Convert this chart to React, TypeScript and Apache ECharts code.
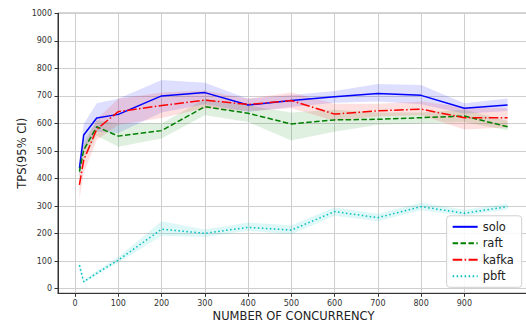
import React, { useEffect, useRef } from "react";
import * as echarts from "echarts";

const concurrency = [10, 20, 50, 100, 200, 300, 400, 500, 600, 700, 800, 900, 1000];

const solo = [437, 558, 620, 633, 700, 712, 667, 683, 697, 709, 702, 655, 667];
const soloLo = [410, 505, 570, 565, 640, 670, 642, 660, 675, 680, 670, 635, 645];
const soloHi = [470, 598, 673, 690, 758, 748, 690, 703, 718, 743, 740, 673, 691];

const raft = [425, 504, 588, 554, 574, 661, 637, 598, 613, 615, 621, 627, 588];
const raftLo = [400, 470, 555, 515, 545, 630, 605, 538, 570, 595, 600, 605, 575];
const raftHi = [450, 540, 612, 600, 600, 690, 665, 640, 650, 640, 640, 650, 610];

const kafka = [377, 467, 579, 643, 665, 685, 669, 683, 634, 646, 652, 621, 621];
const kafkaLo = [322, 420, 540, 595, 620, 655, 645, 655, 610, 625, 630, 578, 585];
const kafkaHi = [430, 520, 615, 690, 712, 720, 690, 712, 672, 672, 680, 660, 655];

const pbft = [85, 25, 56, 104, 216, 201, 223, 213, 280, 258, 298, 274, 298];
const pbftLo = [70, 20, 50, 95, 192, 188, 210, 198, 265, 245, 285, 265, 288];
const pbftHi = [105, 30, 65, 115, 245, 215, 240, 230, 295, 272, 312, 287, 310];

const xTicks = [0, 100, 200, 300, 400, 500, 600, 700, 800, 900];
const yTicks = [0, 100, 200, 300, 400, 500, 600, 700, 800, 900, 1000];

const FONT = "DejaVu Sans";

type Spec = {
  name: string;
  mean: number[];
  lo: number[];
  hi: number[];
  color: string;
  band: string;
  dash: any;
};

const specs: Spec[] = [
  { name: "solo", mean: solo, lo: soloLo, hi: soloHi, color: "#0000ff", band: "rgba(0,0,255,0.13)", dash: "solid" },
  { name: "raft", mean: raft, lo: raftLo, hi: raftHi, color: "#008000", band: "rgba(0,128,0,0.12)", dash: [5.5, 2.4] },
  { name: "kafka", mean: kafka, lo: kafkaLo, hi: kafkaHi, color: "#ff0000", band: "rgba(255,0,0,0.12)", dash: [9.6, 2.4, 1.5, 2.4] },
  { name: "pbft", mean: pbft, lo: pbftLo, hi: pbftHi, color: "#00bfbf", band: "rgba(0,191,191,0.13)", dash: [1.5, 2.5] },
];

export default function App() {
  const ref = useRef<HTMLDivElement>(null);
  useEffect(() => {
    if (!ref.current) return;
    const chart = echarts.init(ref.current, undefined, { renderer: "svg" });
    const series: any[] = [];
    specs.forEach((s) => {
      series.push({
        name: s.name + "-ci",
        type: "custom",
        silent: true,
        z: 1,
        encode: { x: 0, y: 1 },
        data: [[concurrency[0], s.lo[0]]],
        renderItem: (_params: any, api: any) => {
          const upper = concurrency.map((x, i) => api.coord([x, s.hi[i]]));
          const lower = concurrency.map((x, i) => api.coord([x, s.lo[i]])).reverse();
          return {
            type: "polygon",
            shape: { points: upper.concat(lower) },
            style: { fill: s.band, stroke: "none" },
            silent: true,
          };
        },
      });
    });
    specs.forEach((s) => {
      series.push({
        name: s.name,
        type: "line",
        symbol: "none",
        color: s.color,
        lineStyle: { color: s.color, width: 1.5, type: s.dash },
        data: concurrency.map((x, i) => [x, s.mean[i]]),
        z: 3,
      });
    });

    chart.setOption({
      animation: false,
      backgroundColor: "#ffffff",
      textStyle: { fontFamily: FONT },
      grid: {
        left: 58,
        top: 13.3,
        right: -3,
        bottom: 29.7,
        outerBoundsMode: "none",
        containLabel: false,
        show: true,
        borderColor: "#333333",
        borderWidth: 1,
        backgroundColor: "transparent",
      },
      legend: {
        data: specs.map((s) => s.name),
        orient: "vertical",
        right: 4.3,
        bottom: 35.7,
        itemWidth: 25,
        itemHeight: 14,
        itemGap: 4.5,
        padding: [5, 8, 5, 5],
        backgroundColor: "rgba(255,255,255,0.85)",
        borderColor: "#d0d0d0",
        borderWidth: 1,
        borderRadius: 3,
        itemStyle: { color: "transparent", borderColor: "transparent", borderWidth: 0, opacity: 0 },
        textStyle: { fontFamily: FONT, fontSize: 11.5, color: "#222" },
        z: 10,
      },
      xAxis: {
        type: "value",
        min: -39.5,
        max: 1049.5,
        name: "NUMBER OF CONCURRENCY",
        nameLocation: "middle",
        nameGap: 17,
        nameMoveOverlap: false,
        nameTextStyle: { fontFamily: FONT, fontSize: 11.5, color: "#222" },
        axisLine: { show: true, onZero: false, lineStyle: { color: "#333", width: 1 } },
        axisTick: { show: true, length: 3.5, customValues: xTicks, lineStyle: { color: "#333" } },
        axisLabel: { customValues: xTicks, fontSize: 8, color: "#333", margin: 6, fontFamily: FONT, formatter: (v: number) => String(v) },
        splitLine: { show: true, lineStyle: { color: "#cfcfcf", width: 1 } },
      },
      yAxis: {
        type: "value",
        min: -16.7,
        max: 1000,
        name: "TPS(95% CI)",
        nameLocation: "middle",
        nameGap: 30,
        nameMoveOverlap: false,
        nameTextStyle: { fontFamily: FONT, fontSize: 11.5, color: "#222" },
        axisLine: { show: true, onZero: false, lineStyle: { color: "#333", width: 1 } },
        axisTick: { show: true, length: 3.5, customValues: yTicks, lineStyle: { color: "#333" } },
        axisLabel: { customValues: yTicks, fontSize: 8, color: "#333", margin: 6, fontFamily: FONT, formatter: (v: number) => String(v) },
        splitLine: { show: true, lineStyle: { color: "#cfcfcf", width: 1 } },
      },
      series,
    });
    return () => chart.dispose();
  }, []);
  return <div ref={ref} style={{ width: 526, height: 323, position: "absolute", left: 0, top: 0 }} />;
}
